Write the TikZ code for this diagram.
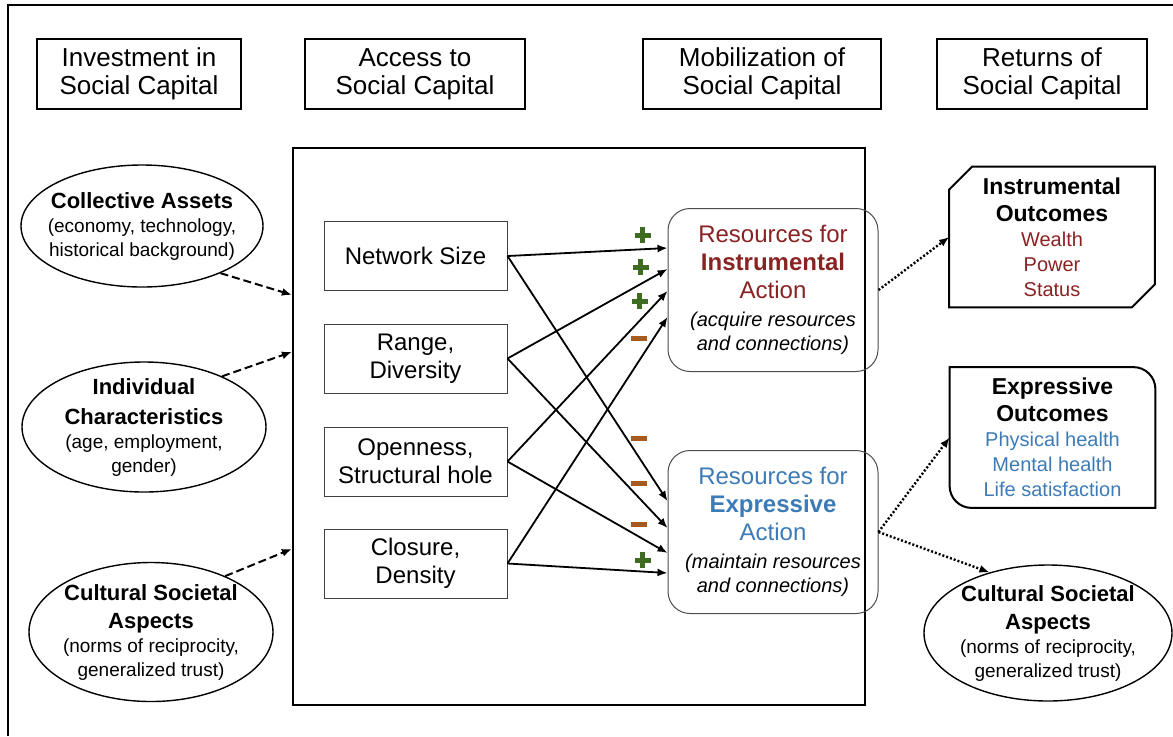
\documentclass[tikz,border=0pt]{standalone}
\usepackage{fontspec}
\setmainfont{Liberation Sans}
\usetikzlibrary{arrows.meta,shapes.geometric,calc}
\usepackage{xcolor}
\definecolor{instred}{HTML}{8A2222}
\definecolor{exprblue}{HTML}{3D7BB6}
\definecolor{plusgreen}{HTML}{3F6B21}
\definecolor{minusbrown}{HTML}{A65A1E}
\newcommand{\posmark}{\rule[-1.25pt]{8pt}{2.5pt}\hspace{-5.25pt}\rule[-4pt]{2.5pt}{8pt}\hspace{2.75pt}}
\newcommand{\negmark}{\rule[-1.25pt]{8pt}{2.5pt}}

\begin{document}
\begin{tikzpicture}[x=0.5pt, y=-0.5pt,
  % Node Styles
  header/.style={rectangle, draw, line width=0.9pt, minimum height=35pt, align=center, font=\fontsize{13}{14}\selectfont},
  netbox/.style={rectangle, draw=black!75, line width=0.5pt, minimum width=91.5pt, minimum height=34.5pt, align=center, font=\fontsize{12}{14}\selectfont},
  resbox/.style={rectangle, rounded corners=11pt, draw=black!70, line width=0.5pt, minimum width=105pt, minimum height=81.5pt, align=center, font=\fontsize{12}{14}\selectfont},
  ellip/.style={ellipse, draw, line width=0.7pt, inner sep=-8pt, align=center, font=\fontsize{9.5}{12}\selectfont},
  outbox/.style={rectangle, minimum width=102.5pt, minimum height=70pt, align=center, font=\fontsize{10}{12.5}\selectfont},
  sign/.style={inner sep=0pt},
  % Arrow Styles
  solidarrow/.style={-{Latex[length=5pt, width=4pt]}, line width=0.9pt},
  dashedarrow/.style={-{Latex[length=5pt, width=4pt]}, line width=1pt, dash pattern=on 4pt off 2pt},
  dottedarrow/.style={-{Latex[length=5pt, width=4pt]}, line width=1.2pt, dash pattern=on 1pt off 1pt}
]
\useasboundingbox (0,0) rectangle (1173,736);
\draw[line width=1.2pt] (8,736) |- (1173,5);

% Column headers
\node[header, minimum width=102pt] (H_inv) at (139,74) {Investment in\\Social Capital};
\node[header, minimum width=110pt] (H_acc) at (415,74) {Access to\\Social Capital};
\node[header, minimum width=119pt] (H_mob) at (762,74) {Mobilization of\\Social Capital};
\node[header, minimum width=105pt] (H_ret) at (1042,74) {Returns of\\Social Capital};

% Investment
\node[ellip, minimum width=121pt, minimum height=61pt] (E_coll) at (142,226)
  {{\fontsize{11}{13}\selectfont\bfseries Collective Assets}\\(economy, technology,\\historical background)};
\node[ellip, minimum width=122pt, minimum height=65pt] (E_ind) at (144,427)
  {{\fontsize{11}{13}\selectfont\bfseries Individual}\\[3pt]{\fontsize{11}{13}\selectfont\bfseries Characteristics}\\(age, employment,\\gender)};
\node[ellip, minimum width=122pt, minimum height=69.5pt] (E_cult) at (151,632)
  {{\fontsize{11}{13}\selectfont\bfseries Cultural Societal}\\[2pt]{\fontsize{11}{13}\selectfont\bfseries Aspects}\\(norms of reciprocity,\\generalized trust)};

% Access
\node[draw, line width=1.1pt, minimum width=286pt, minimum height=278.5pt] (M_box) at (579,426.5) {};
\node[netbox] (N_size) at (415.5,256) {Network Size};
\node[netbox] (N_range) at (415.5,358.5) {Range,\\Diversity};
\node[netbox] (N_open) at (415.5,461.5) {Openness,\\Structural hole};
\node[netbox] (N_clos) at (415.5,563.5) {Closure,\\Density};

% Mobilization
\node[resbox, text=instred] (R_inst) at (773,290)
  {Resources for\\\textbf{Instrumental}\\Action\\{\color{black}\fontsize{10}{12}\selectfont\itshape (acquire resources}\\[-2pt]{\color{black}\fontsize{10}{12}\selectfont\itshape and connections)}};
\node[resbox, text=exprblue] (R_expr) at (773,532)
  {Resources for\\\textbf{Expressive}\\Action\\{\color{black}\fontsize{10}{12}\selectfont\itshape (maintain resources}\\[-2pt]{\color{black}\fontsize{10}{12}\selectfont\itshape and connections)}};

% Returns
\node[outbox, text=instred] (O_inst) at (1052,237)
  {{\color{black}\fontsize{11.5}{14}\selectfont\bfseries Instrumental}\\[1pt]{\color{black}\fontsize{11.5}{14}\selectfont\bfseries Outcomes}\\Wealth\\Power\\Status};
\draw[line width=1pt] ($(O_inst.north west)+(0,23)$) -- ($(O_inst.north west)+(23,0)$) -- (O_inst.north east)
  -- ($(O_inst.south east)+(0,-23)$) -- ($(O_inst.south east)+(-23,0)$) -- (O_inst.south west) -- cycle;
\node[outbox, text=exprblue] (O_expr) at (1052.5,437.5)
  {{\color{black}\fontsize{11.5}{14}\selectfont\bfseries Expressive}\\[1pt]{\color{black}\fontsize{11.5}{14}\selectfont\bfseries Outcomes}\\Physical health\\Mental health\\Life satisfaction};
\draw[line width=1pt] (O_expr.north west) -- ($(O_expr.north east)+(-22,0)$) arc[start angle=90, end angle=0, radius=11pt]
  -- (O_expr.south east) -- ($(O_expr.south west)+(22,0)$) arc[start angle=-90, end angle=-180, radius=11pt] -- cycle;
\node[ellip, minimum width=124pt, minimum height=68pt] (E_ret) at (1048,633)
  {{\fontsize{11}{13}\selectfont\bfseries Cultural Societal}\\[2pt]{\fontsize{11}{13}\selectfont\bfseries Aspects}\\(norms of reciprocity,\\generalized trust)};

% Investment -> access
\draw[dashedarrow] (E_coll.-31) -- ($(M_box.north west)+(0,148)$);
\draw[dashedarrow] (E_ind.33) -- ($(M_box.north west)+(0,205)$);
\draw[dashedarrow] (E_cult.37) -- ($(M_box.north west)+(0,402)$);

% Access -> mobilization
\draw[solidarrow] (N_size.east) -- ($(R_inst.north west)+(0,40)$);
\draw[solidarrow] (N_range.east) -- ($(R_inst.north west)+(0,61)$);
\draw[solidarrow] (N_open.east) -- ($(R_inst.north west)+(0,83)$);
\draw[solidarrow] (N_clos.east) -- ($(R_inst.north west)+(0,109)$);
\draw[solidarrow] (N_size.east) -- ($(R_expr.north west)+(0,51)$);
\draw[solidarrow] (N_range.east) -- ($(R_expr.north west)+(0,78)$);
\draw[solidarrow] (N_open.east) -- ($(R_expr.north west)+(0,103)$);
\draw[solidarrow] (N_clos.east) -- ($(R_expr.north west)+(0,123)$);

% Signs
\node[sign, text=plusgreen] (S_1) at (640,235) {\posmark};
\node[sign, text=plusgreen] (S_2) at (638,267) {\posmark};
\node[sign, text=plusgreen] (S_3) at (637,301) {\posmark};
\node[sign, text=minusbrown] (S_4) at (639,338) {\negmark};
\node[sign, text=minusbrown] (S_5) at (639,438) {\negmark};
\node[sign, text=minusbrown] (S_6) at (639,483) {\negmark};
\node[sign, text=minusbrown] (S_7) at (639,524) {\negmark};
\node[sign, text=plusgreen] (S_8) at (640,560) {\posmark};

% Mobilization -> returns
\draw[dottedarrow] (R_inst.east) -- (O_inst.west);
\draw[dottedarrow] (R_expr.east) -- (O_expr.west);
\draw[dottedarrow] (R_expr.east) -- (E_ret.134);

\end{tikzpicture}
\end{document}
